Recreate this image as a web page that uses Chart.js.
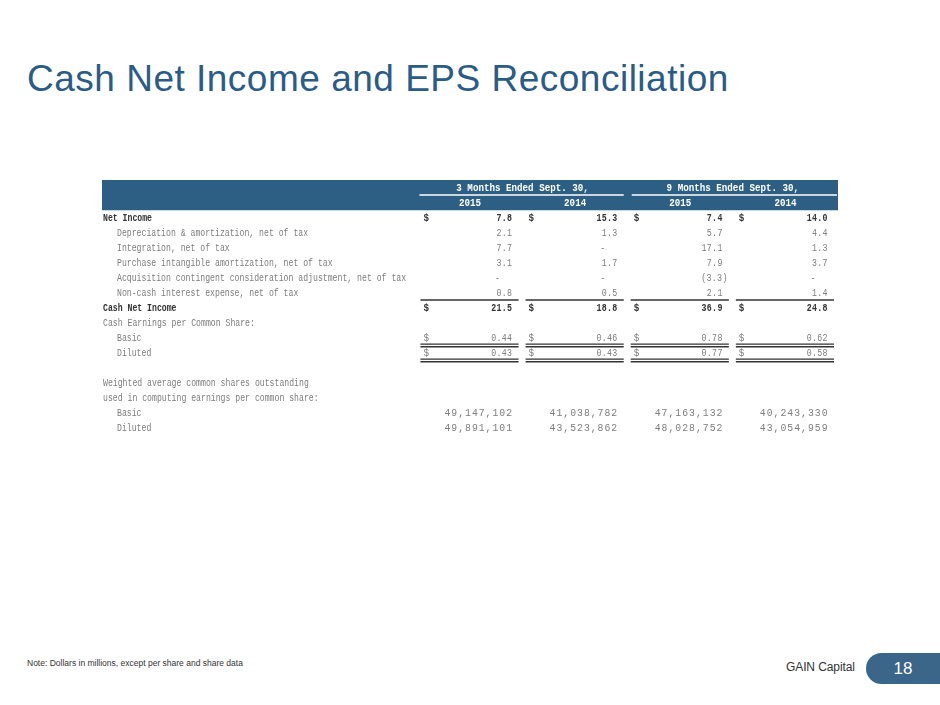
<!DOCTYPE html>
<html>
<head>
<meta charset="utf-8">
<script src="https://cdn.jsdelivr.net/npm/chart.js@4.4.1/dist/chart.umd.min.js"></script>
<style>
  body { margin: 0; background: #fff; width: 940px; height: 705px; overflow: hidden; position: relative; font-family: "Liberation Sans", Arial, sans-serif; }
  .title { position: absolute; left: 27px; top: 60px; font-size: 37px; line-height: 1; letter-spacing: 0.5px; color: #2a5c87; white-space: nowrap; }
  .note { position: absolute; left: 27px; top: 658px; font-size: 8.5px; color: #333; }
  .brand { position: absolute; left: 786px; top: 660px; font-size: 12px; color: #333; letter-spacing: -0.1px; }
  .tab { position: absolute; left: 866px; top: 653px; width: 74px; height: 31px; background: #3b6589; border-radius: 16px 0 0 16px; color: #fff; font-size: 17px; text-align: center; line-height: 31px; }
  .table-box { position: absolute; left: 102px; top: 180px; width: 736px; height: 255px; }
</style>
</head>
<body>
<div class="title">Cash Net Income and EPS Reconciliation</div>
<div class="table-box"><canvas id="tbl"></canvas></div>
<div class="note">Note: Dollars in millions, except per share and share data</div>
<div class="brand">GAIN Capital</div>
<div class="tab">18</div>
<script>
// header labels
const periods = ['3 Months Ended Sept. 30,', '9 Months Ended Sept. 30,'];
const years = ['2015', '2014', '2015', '2014'];

// row labels (blank entry is the spacer row)
const rowLabels = [
  'Net Income',
  'Depreciation & amortization, net of tax',
  'Integration, net of tax',
  'Purchase intangible amortization, net of tax',
  'Acquisition contingent consideration adjustment, net of tax',
  'Non-cash interest expense, net of tax',
  'Cash Net Income',
  'Cash Earnings per Common Share:',
  'Basic',
  'Diluted',
  '',
  'Weighted average common shares outstanding',
  'used in computing earnings per common share:',
  'Basic',
  'Diluted'
];

// values per column: 3M 2015, 3M 2014, 9M 2015, 9M 2014 ($ millions / per share / shares)
const netIncome       = [7.8, 15.3, 7.4, 14.0];
const depreciation    = [2.1, 1.3, 5.7, 4.4];
const integration     = [7.7, 0, 17.1, 1.3];
const purchaseAmort   = [3.1, 1.7, 7.9, 3.7];
const acquisitionAdj  = [0, 0, -3.3, 0];
const nonCashInterest = [0.8, 0.5, 2.1, 1.4];
const cashNetIncome   = [21.5, 18.8, 36.9, 24.8];
const epsBasic        = [0.44, 0.46, 0.78, 0.62];
const epsDiluted      = [0.43, 0.43, 0.77, 0.58];
const sharesBasic     = [49147102, 41038782, 47163132, 40243330];
const sharesDiluted   = [49891101, 43523862, 48028752, 43054959];

// which series sits on each table row, and how it is shown
const rowSeries = [netIncome, depreciation, integration, purchaseAmort, acquisitionAdj, nonCashInterest,
  cashNetIncome, null, epsBasic, epsDiluted, null, null, null, sharesBasic, sharesDiluted];
const rowKind = ['total', 'item', 'item', 'item', 'item', 'item', 'total', 'section', 'eps', 'eps',
  'blank', 'section', 'section', 'shares', 'shares'];

const HEAD_ROWS = 2;
const yLabels = ['', ''].concat(rowLabels);
const headBand = yLabels.map((l, i) => i < HEAD_ROWS ? [-0.5, 6.5] : null);

const MONO = '"Liberation Mono", "DejaVu Sans Mono", monospace';
const DARK = '#333333';
const GREY = '#7d7d7d';

function fmt(v, kind) {
  if (kind === 'shares') return v.toLocaleString('en-US');
  if (kind === 'eps') return v.toFixed(2);
  if (v === 0) return '-';
  if (v < 0) return '(' + Math.abs(v).toFixed(1) + ')';
  return v.toFixed(1);
}

function txt(ctx, s, px, py, align, font, color, sx, spacing) {
  ctx.save();
  ctx.translate(px, py);
  ctx.scale(sx, 1);
  ctx.font = font;
  ctx.fillStyle = color;
  ctx.textAlign = align;
  ctx.textBaseline = 'middle';
  ctx.letterSpacing = ((spacing || 0) / sx) + 'px';
  // trailing spacing would push right-aligned text left
  const shift = align === 'right' && spacing ? spacing / sx : 0;
  ctx.fillText(s, shift, 0);
  ctx.restore();
}

function hline(ctx, x0, x1, py, w, color) {
  ctx.save();
  ctx.strokeStyle = color;
  ctx.lineWidth = w;
  ctx.beginPath();
  ctx.moveTo(x0, py);
  ctx.lineTo(x1, py);
  ctx.stroke();
  ctx.restore();
}

const tablePlugin = {
  id: 'tableCells',
  afterDatasetsDraw(chart) {
    const { ctx, scales: { x, y } } = chart;
    const slot = x.getPixelForValue(1) - x.getPixelForValue(0);
    const rowH = y.getPixelForValue(1) - y.getPixelForValue(0);
    const colL = c => x.getPixelForValue(3 + c) - slot / 2;
    const colR = c => x.getPixelForValue(3 + c) + slot / 2;
    const head = 'bold 11.5px ' + MONO;
    const bold = 'bold 11.5px ' + MONO;
    const norm = '11.5px ' + MONO;

    // header: periods over pairs of columns, white rule, years
    periods.forEach((p, i) => {
      const cx = (colL(i * 2) + colR(i * 2 + 1)) / 2;
      txt(ctx, p, cx, y.getPixelForValue(0) + 0.5, 'center', head, '#ffffff', 0.8);
      const yb = y.getPixelForValue(0) + rowH / 2;
      hline(ctx, colL(i * 2) + (i ? 4 : 2), colR(i * 2 + 1) - (i ? 1 : 4), yb, 1.5, '#ffffff');
    });
    years.forEach((yr, c) => {
      txt(ctx, yr, x.getPixelForValue(3 + c), y.getPixelForValue(1) + 0.5, 'center', head, '#ffffff', 0.8);
    });

    // body rows
    rowLabels.forEach((label, r) => {
      const row = r + HEAD_ROWS;
      const py = y.getPixelForValue(row) + 0.5;
      const kind = rowKind[r];
      const isTotal = kind === 'total';
      const indent = (kind === 'item' || kind === 'eps' || kind === 'shares') ? 15 : 1;
      const color = isTotal ? DARK : GREY;
      const font = isTotal ? bold : norm;
      if (label) txt(ctx, label, x.getPixelForValue(-0.5) + indent, py, 'left', font, color, 0.71);
      const series = rowSeries[r];
      if (!series) return;
      series.forEach((v, c) => {
        const left = colL(c), right = colR(c);
        if (isTotal || kind === 'eps') txt(ctx, '$', left + 6, py, 'left', font, color, 0.8);
        const s = fmt(v, kind);
        let rx = right - 10.5;
        if (s === '-') rx -= 12;
        if (s.startsWith('(')) rx += 5;
        if (kind === 'shares') txt(ctx, s, rx, py, 'right', font, color, 0.85, 1);
        else txt(ctx, s, rx, py, 'right', font, color, 0.72, 0.3);
      });
    });

    // rules under subtotal inputs and EPS rows
    const boundary = row => y.getPixelForValue(row) + rowH / 2;
    years.forEach((_, c) => {
      const l = colL(c) + 3, r = colR(c) - 4;
      hline(ctx, l, r, boundary(HEAD_ROWS + 5), 1.4, DARK);
      [8, 9].forEach(er => {
        const b = boundary(HEAD_ROWS + er);
        hline(ctx, l, r, b - 0.8, 1.2, DARK);
        hline(ctx, l, r, b + 1.7, 1.4, DARK);
      });
    });
  }
};

new Chart(document.getElementById('tbl'), {
  type: 'bar',
  data: {
    labels: yLabels,
    datasets: [{
      data: headBand,
      backgroundColor: '#2d5f85',
      borderWidth: 0,
      barPercentage: 1,
      categoryPercentage: 1
    }]
  },
  options: {
    indexAxis: 'y',
    responsive: true,
    maintainAspectRatio: false,
    animation: false,
    devicePixelRatio: 1,
    layout: { padding: 0 },
    plugins: { legend: { display: false }, tooltip: { enabled: false } },
    scales: {
      x: { type: 'linear', min: -0.5, max: 6.5, display: false },
      y: { type: 'category', display: false, grid: { display: false } }
    }
  },
  plugins: [tablePlugin]
});
</script>
</body>
</html>
